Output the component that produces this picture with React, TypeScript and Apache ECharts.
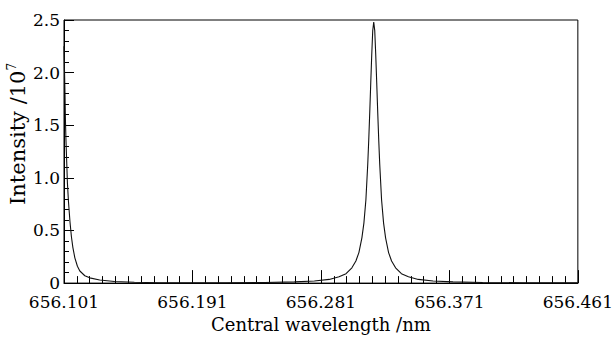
import React, { useEffect, useRef } from "react";
import * as echarts from "echarts";

const X_START = 656.101;
const X_END = 656.461;
const X_STEP = 0.09;

// wavelength (nm)
const wavelength = [
  656.1010, 656.1013, 656.1017, 656.1020, 656.1024, 656.1029, 656.1034, 656.1041,
  656.1052, 656.1062, 656.1072, 656.1086, 656.1104, 656.1121, 656.1156, 656.1190,
  656.1260, 656.1364, 656.1503, 656.1676, 656.1954, 656.2140,
  656.2417, 656.2625, 656.2764, 656.2868, 656.2937, 656.2986, 656.3027, 656.3055,
  656.3076, 656.3097, 656.3111, 656.3125, 656.3138, 656.3145, 656.3152, 656.3159,
  656.3166, 656.3173, 656.3180, 656.3187, 656.3194, 656.3201, 656.3208, 656.3215,
  656.3222, 656.3235, 656.3249, 656.3263, 656.3284, 656.3305, 656.3333, 656.3374,
  656.3423, 656.3492, 656.3596, 656.3735, 656.3943, 656.4220, 656.4610,
];

// intensity (10^7)
const intensity = [
  2.25, 2.05, 1.80, 1.55, 1.35, 1.15, 0.95, 0.78,
  0.58, 0.44, 0.34, 0.24, 0.16, 0.115, 0.07, 0.05,
  0.03, 0.015, 0.008, 0.004, 0.003, 0.004,
  0.006, 0.012, 0.02, 0.035, 0.06, 0.09, 0.145, 0.21,
  0.29, 0.43, 0.57, 0.79, 1.13, 1.36, 1.62, 1.90,
  2.17, 2.40, 2.48, 2.40, 2.17, 1.90, 1.62, 1.36,
  1.13, 0.79, 0.57, 0.43, 0.29, 0.21, 0.145, 0.09,
  0.06, 0.035, 0.02, 0.012, 0.006, 0.003, 0.002,
];

const Y_MAX = 2.5;
const Y_STEP = 0.5;

const FONT = "DejaVu Serif, serif";

export default function App() {
  const ref = useRef<HTMLDivElement>(null);
  useEffect(() => {
    if (!ref.current) return;
    const chart = echarts.init(ref.current, null, { renderer: "svg" });
    // x in thousandths of nm offset from X_START so ticks align with X_START
    const toOff = (v: number) => Math.round((v - X_START) * 1e6) / 1e3;
    const data = wavelength.map((w, i) => [toOff(w), intensity[i]]);
    chart.setOption({
      animation: false,
      backgroundColor: "#fff",
      grid: {
        left: 64,
        right: 33,
        top: 20,
        bottom: 48,
        show: true,
        borderColor: "#000",
        borderWidth: 1,
        backgroundColor: "transparent",
      },
      xAxis: {
        type: "value",
        min: 0,
        max: toOff(X_END),
        interval: toOff(X_START + X_STEP),
        axisLine: { show: true, lineStyle: { color: "#000", width: 1 } },
        axisTick: { show: true, inside: true, length: 13, lineStyle: { color: "#000", width: 1 } },
        minorTick: { show: true, splitNumber: 10, length: 7, lineStyle: { color: "#000", width: 1 } },
        splitLine: { show: false },
        axisLabel: {
          color: "#000",
          fontFamily: FONT,
          fontSize: 17,
          margin: 10,
          showMinLabel: true,
          showMaxLabel: true,
          formatter: (v: number) => (X_START + v / 1000).toFixed(3),
        },
        name: "Central wavelength /nm",
        nameLocation: "middle",
        nameGap: 29,
        nameTextStyle: { color: "#000", fontFamily: FONT, fontSize: 18 },
      },
      yAxis: {
        type: "value",
        min: 0,
        max: Y_MAX,
        interval: Y_STEP,
        axisLine: { show: true, lineStyle: { color: "#000", width: 1 } },
        axisTick: { show: true, inside: true, length: 10, lineStyle: { color: "#000", width: 1 } },
        minorTick: { show: true, splitNumber: 5, length: 5, lineStyle: { color: "#000", width: 1 } },
        splitLine: { show: false },
        axisLabel: {
          color: "#000",
          fontFamily: FONT,
          fontSize: 17,
          margin: 4,
          formatter: (v: number) => (v === 0 ? "0" : v.toFixed(1)),
        },
      },
      graphic: [
        {
          type: "text",
          x: 18,
          y: 134,
          rotation: Math.PI / 2,
          style: {
            text: "{a|Intensity /10}{s|7}",
            textAlign: "center",
            textVerticalAlign: "middle",
            fill: "#000",
            rich: {
              a: { fontFamily: FONT, fontSize: 21, lineHeight: 24, fill: "#000" },
              s: { fontFamily: FONT, fontSize: 12, lineHeight: 24, verticalAlign: "top", fill: "#000" },
            },
          },
        },
      ],
      series: [
        {
          type: "line",
          data,
          showSymbol: false,
          symbol: "none",
          lineStyle: { color: "#111", width: 1.1 },
          clip: true,
        },
      ],
    });
    return () => chart.dispose();
  }, []);
  return (
    <div
      ref={ref}
      style={{ position: "fixed", left: 0, top: 0, width: 616, height: 338 }}
    />
  );
}
